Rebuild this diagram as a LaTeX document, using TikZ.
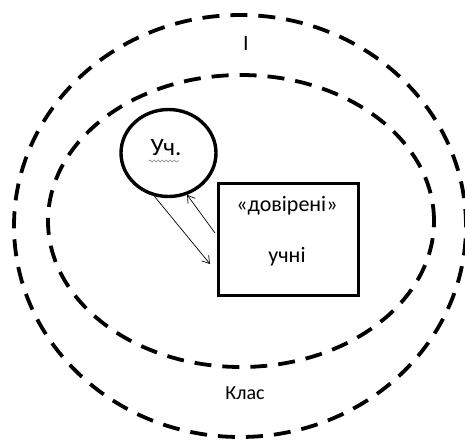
\documentclass[tikz,border=0pt]{standalone}
\usepackage{fontspec}
\setmainfont{Carlito}
\usetikzlibrary{arrows.meta,shapes.geometric,decorations.pathmorphing}

\begin{document}
\begin{tikzpicture}[x=1pt,y=-1pt,
    zone/.style={line width=3.8pt,dash pattern=on 17pt off 11pt},
    pupil/.style={ellipse,draw,line width=3.4pt,minimum width=95pt,minimum height=87pt,inner sep=0pt},
    trusted/.style={draw,line width=3.4pt,minimum width=140pt,minimum height=112pt,inner sep=0pt},
    link/.style={line width=0.7pt,-{Straight Barb[length=7pt,width=9pt]}}]
  \useasboundingbox[fill=white] (0,0) rectangle (465,440);
  \draw[zone] (240,226) ellipse [x radius=226pt,y radius=211pt];
  \draw[zone] (241,221) ellipse [x radius=193pt,y radius=146pt];
  \node[font=\fontsize{22}{26}\selectfont] (roman) at (246,43) {І};
  \node[font=\fontsize{20}{24}\selectfont] (klas) at (245,393) {Клас};
  \node[pupil] (uch) at (168.5,153) {};
  \node[font=\fontsize{25}{30}\selectfont] (uchtext) at (166,148) {Уч.};
  \draw[gray,line width=0.6pt,decorate,decoration={snake,amplitude=0.9pt,segment length=4pt}]
    (149,161) -- (179,161);
  \node[trusted] (box) at (288.5,239.5) {};
  \node[font=\fontsize{22}{26}\selectfont] (dov) at (287,206) {«довірені»};
  \node[font=\fontsize{22}{26}\selectfont] (uchni) at (287,257) {учні};
  \coordinate (tip) at (210,264);
  \coordinate (tail) at (215,233);
  \draw[link] (uch.252) -- (tip);
  \draw[link] (tail) -- (uch.294);
\end{tikzpicture}
\end{document}
